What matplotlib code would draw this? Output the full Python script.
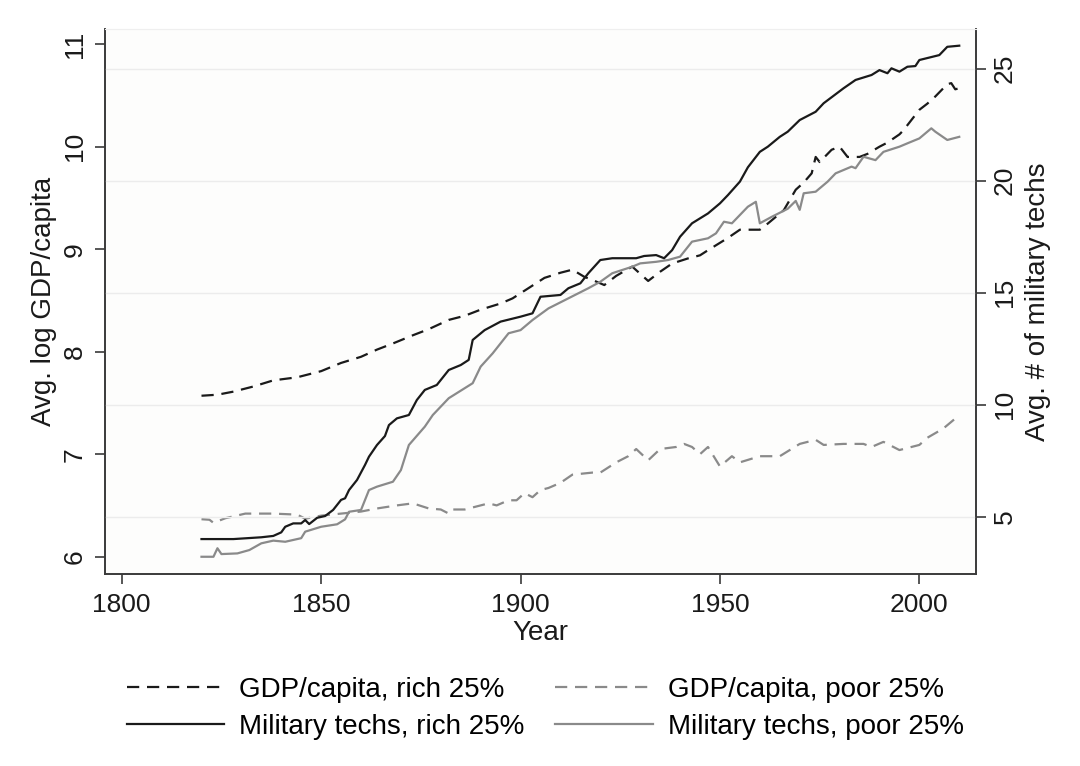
"""Avg. log GDP/capita and avg. # of military techs, rich vs poor 25%."""

import matplotlib

matplotlib.use("Agg")
import matplotlib.pyplot as plt

plt.rcParams["font.family"] = ["Liberation Sans", "DejaVu Sans"]

# --- GDP/capita (left axis, log) ---
gdp_rich_years = [1820, 1824, 1828, 1833, 1838, 1844, 1850, 1855, 1860, 1864,
                  1868, 1873, 1877, 1882, 1886, 1890, 1895, 1898, 1902, 1906,
                  1910, 1913, 1916, 1918, 1921, 1924, 1928, 1930, 1932, 1935,
                  1938, 1942, 1945, 1947, 1952, 1955, 1960, 1962, 1966, 1969,
                  1971, 1973, 1974, 1975, 1978, 1980, 1982, 1985, 1987, 1990,
                  1992, 1995, 1996, 1999, 2000, 2002, 2004, 2007, 2008, 2009,
                  2010]
gdp_rich = [7.57, 7.58, 7.61, 7.66, 7.72, 7.75, 7.81, 7.89, 7.95, 8.02,
            8.08, 8.16, 8.22, 8.31, 8.35, 8.41, 8.47, 8.52, 8.62, 8.72,
            8.77, 8.80, 8.73, 8.70, 8.65, 8.74, 8.83, 8.76, 8.69, 8.78,
            8.86, 8.91, 8.94, 8.99, 9.11, 9.19, 9.19, 9.25, 9.38, 9.58,
            9.65, 9.74, 9.90, 9.85, 9.97, 10.00, 9.90, 9.90, 9.93, 10.00,
            10.04, 10.12, 10.16, 10.31, 10.36, 10.42, 10.49, 10.61, 10.62, 10.56,
            10.57]

gdp_poor_years = [1820, 1822, 1823, 1826, 1831, 1838, 1844, 1846, 1850, 1855,
                  1860, 1864, 1869, 1873, 1877, 1880, 1882, 1883, 1886, 1892,
                  1894, 1897, 1899, 1901, 1903, 1905, 1907, 1910, 1913, 1918,
                  1920, 1924, 1927, 1929, 1932, 1935, 1939, 1941, 1943, 1945,
                  1947, 1950, 1953, 1955, 1960, 1965, 1970, 1974, 1976, 1981,
                  1986, 1988, 1991, 1995, 1998, 2000, 2002, 2006, 2010]
gdp_poor = [6.365, 6.36, 6.33, 6.375, 6.42, 6.42, 6.41, 6.37, 6.40, 6.42,
            6.44, 6.47, 6.50, 6.52, 6.47, 6.46, 6.42, 6.46, 6.46, 6.52,
            6.50, 6.55, 6.55, 6.62, 6.58, 6.65, 6.67, 6.72, 6.80, 6.82,
            6.82, 6.92, 6.98, 7.05, 6.94, 7.05, 7.07, 7.10, 7.07, 7.00,
            7.07, 6.88, 6.98, 6.92, 6.98, 6.98, 7.10, 7.14, 7.09, 7.10,
            7.10, 7.07, 7.12, 7.04, 7.07, 7.09, 7.16, 7.25, 7.38]

# --- Military techs (right axis) ---
mil_rich_years = [1820, 1828, 1835, 1838, 1840, 1841, 1843, 1845, 1846, 1847,
                  1849, 1851, 1853, 1855, 1856, 1857, 1859, 1861, 1862, 1864,
                  1866, 1867, 1869, 1872, 1874, 1876, 1879, 1882, 1885, 1887,
                  1888, 1891, 1895, 1900, 1903, 1905, 1910, 1912, 1915, 1917,
                  1920, 1923, 1929, 1931, 1934, 1936, 1938, 1940, 1943, 1947,
                  1950, 1952, 1955, 1957, 1960, 1962, 1965, 1967, 1970, 1974,
                  1976, 1981, 1984, 1988, 1990, 1992, 1993, 1995, 1997, 1999,
                  2000, 2005, 2007, 2010]
mil_rich = [4.00, 4.00, 4.08, 4.14, 4.30, 4.55, 4.70, 4.70, 4.85, 4.67,
            4.95, 5.03, 5.30, 5.75, 5.82, 6.19, 6.64, 7.31, 7.68, 8.20,
            8.60, 9.09, 9.39, 9.54, 10.21, 10.66, 10.88, 11.55, 11.77, 12.00,
            12.89, 13.33, 13.71, 13.93, 14.08, 14.82, 14.90, 15.20, 15.42, 15.87,
            16.46, 16.54, 16.54, 16.64, 16.68, 16.54, 16.90, 17.50, 18.10, 18.54,
            18.99, 19.36, 19.96, 20.60, 21.29, 21.52, 21.96, 22.19, 22.71, 23.08,
            23.46, 24.13, 24.50, 24.72, 24.94, 24.80, 25.02, 24.87, 25.09, 25.12,
            25.39, 25.61, 25.98, 26.03]

mil_poor_years = [1820, 1823, 1824, 1825, 1829, 1832, 1835, 1838, 1841, 1845,
                  1846, 1850, 1854, 1856, 1857, 1860, 1862, 1864, 1868, 1870,
                  1872, 1876, 1878, 1882, 1888, 1890, 1893, 1895, 1897, 1900,
                  1903, 1907, 1912, 1917, 1920, 1923, 1928, 1930, 1934, 1937,
                  1940, 1943, 1947, 1949, 1951, 1953, 1957, 1959, 1960, 1963,
                  1967, 1969, 1970, 1971, 1974, 1977, 1979, 1983, 1984, 1986,
                  1989, 1991, 1995, 1997, 2000, 2003, 2004, 2007, 2010]
mil_poor = [3.21, 3.21, 3.59, 3.33, 3.36, 3.51, 3.81, 3.93, 3.88, 4.04,
            4.33, 4.55, 4.66, 4.88, 5.22, 5.30, 6.19, 6.34, 6.56, 7.08,
            8.20, 9.02, 9.54, 10.29, 10.96, 11.70, 12.29, 12.74, 13.19, 13.33,
            13.78, 14.30, 14.75, 15.20, 15.49, 15.87, 16.16, 16.31, 16.38, 16.46,
            16.61, 17.28, 17.43, 17.65, 18.17, 18.10, 18.84, 19.06, 18.10, 18.39,
            18.75, 19.10, 18.70, 19.44, 19.51, 19.96, 20.33, 20.63, 20.56, 21.07,
            20.92, 21.29, 21.52, 21.67, 21.89, 22.34, 22.19, 21.82, 21.96]

left_ticks = [6, 7, 8, 9, 10, 11]
right_ticks = [5, 10, 15, 20, 25]
year_ticks = [1800, 1850, 1900, 1950, 2000]

BLACK = "#1a1a1a"
GRAY = "#8a8a8a"
DASH = (5.5, 3.5)

fig = plt.figure(figsize=(10.8, 7.66), dpi=100)
ax = fig.add_axes([0.0972, 0.2507, 0.8065, 0.711])
ax.set_facecolor("#fdfdfc")
ax2 = ax.twinx()

l1, = ax.plot(gdp_rich_years, gdp_rich, color=BLACK, lw=1.6, dashes=DASH,
              label="GDP/capita, rich 25%")
l2, = ax.plot(gdp_poor_years, gdp_poor, color=GRAY, lw=1.6, dashes=DASH,
              label="GDP/capita, poor 25%")
l4, = ax2.plot(mil_poor_years, mil_poor, color=GRAY, lw=1.6,
               label="Military techs, poor 25%")
l3, = ax2.plot(mil_rich_years, mil_rich, color=BLACK, lw=1.6,
               label="Military techs, rich 25%")

ax.set_xlim(1795.8, 2014.2)
ax.set_ylim(5.831, 11.145)
ax2.set_ylim(2.442, 26.76)

ax.set_xticks(year_ticks)
ax.set_yticks(left_ticks)
ax2.set_yticks(right_ticks)

# light gridlines follow the right-hand axis
for v in right_ticks:
    ax2.axhline(v, color="#ececec", lw=1.0, zorder=0)

for a in (ax, ax2):
    for side in ("left", "right", "bottom"):
        a.spines[side].set_color("#3a3a3a")
        a.spines[side].set_linewidth(1.2)
    a.spines["top"].set_color("#efefef")
    a.tick_params(length=7, width=1.2, color="#3a3a3a", labelsize=19,
                  labelcolor=BLACK)

ax.tick_params(axis="y", labelrotation=90, pad=6)
ax2.tick_params(axis="y", labelrotation=90, pad=5)
ax.tick_params(axis="x", pad=7)
for lab in ax.get_yticklabels() + ax2.get_yticklabels():
    lab.set_verticalalignment("center")

ax.set_xlabel("Year", fontsize=20, color=BLACK, labelpad=2)
ax.set_ylabel("Avg. log GDP/capita", fontsize=20, color=BLACK, labelpad=4)
ax2.set_ylabel("Avg. # of military techs", fontsize=20, color=BLACK,
               rotation=90, labelpad=6)

fig.legend(handles=[l1, l3, l2, l4], loc="center", ncol=2,
           bbox_to_anchor=(0.505, 0.075), frameon=False, fontsize=20,
           handlelength=3.5, handletextpad=0.55, columnspacing=1.1,
           labelspacing=0.4)

fig.savefig("out.png", dpi=100, facecolor="white")
